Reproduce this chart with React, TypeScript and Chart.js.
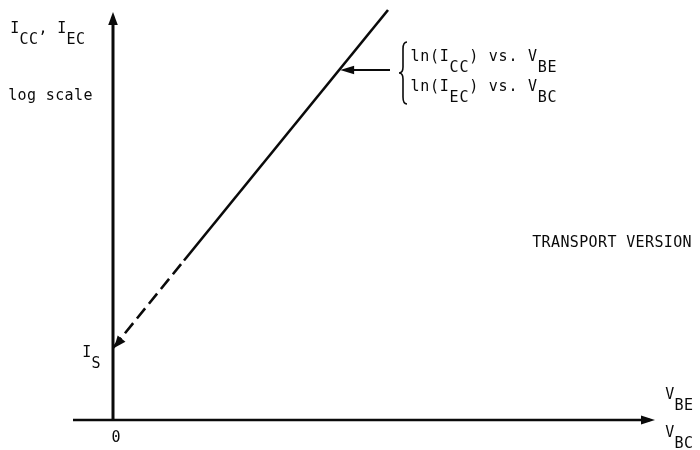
import React, { useEffect, useRef } from "react";
import { Chart, registerables } from "chart.js";

Chart.register(...registerables);

// Transport-model characteristic: ln(I) rises linearly with junction voltage,
// extrapolating back to the saturation current I_S at V = 0.
const VOLTAGE = [0, 1.42, 5.5];          // V_BE / V_BC (arbitrary units)
const LN_CURRENT = [1.44, 3.19, 8.2];    // ln(I_CC) / ln(I_EC) (arbitrary units)
const POINTER_LN_I = 7.0;                // where the annotation arrow meets the line

// Axis extents in data units
const X_AXIS = [-0.8, 10.84];
const Y_AXIS = [0, 8.16];

const X_RANGE = [-2.26, 11.74];
const Y_RANGE = [-0.6, 8.4];

type Part = [string, boolean];
const Y_TITLE: Part[] = [["I", false], ["CC", true], [", ", false], ["I", false], ["EC", true]];
const Y_NOTE = "log scale";
const CURVE_LABELS: Part[][] = [
  [["ln(I", false], ["CC", true], [") vs. V", false], ["BE", true]],
  [["ln(I", false], ["EC", true], [") vs. V", false], ["BC", true]],
];
const MODEL_NAME = "TRANSPORT VERSION";
const X_TITLES: Part[][] = [
  [["V", false], ["BE", true]],
  [["V", false], ["BC", true]],
];
const IS_LABEL: Part[] = [["I", false], ["S", true]];
const ORIGIN_LABEL = "0";

const INK = "#0a0a0a";
const FONT = "15px 'DejaVu Sans Mono'";
const PITCH = 9.4;
const SUB_DROP = 10.5;

function drawMono(ctx: CanvasRenderingContext2D, s: string, x: number, y: number, pitch = PITCH) {
  for (let i = 0; i < s.length; i++) {
    const ch = s[i];
    const w = ctx.measureText(ch).width;
    ctx.fillText(ch, x + i * pitch + (pitch - w) / 2, y);
  }
  return x + s.length * pitch;
}

function drawParts(ctx: CanvasRenderingContext2D, parts: Part[], x: number, y: number, pitch = PITCH) {
  let cx = x;
  for (const [t, sub] of parts) {
    cx = drawMono(ctx, t, cx, sub ? y + SUB_DROP : y, pitch);
  }
}

function arrowHead(ctx: CanvasRenderingContext2D, tx: number, ty: number, ang: number, len: number, half: number) {
  const c = Math.cos(ang), s = Math.sin(ang);
  const bx = tx - len * c, by = ty - len * s;
  ctx.beginPath();
  ctx.moveTo(tx, ty);
  ctx.lineTo(bx - half * s, by + half * c);
  ctx.lineTo(bx + half * s, by - half * c);
  ctx.closePath();
  ctx.fill();
}

function brace(ctx: CanvasRenderingContext2D, xTip: number, xEnd: number, top: number, bottom: number) {
  const mid = (top + bottom) / 2;
  const xm = (xTip + xEnd) / 2;
  ctx.beginPath();
  ctx.moveTo(xEnd, top);
  ctx.quadraticCurveTo(xm, top, xm, top + 7);
  ctx.lineTo(xm, mid - 6);
  ctx.quadraticCurveTo(xm, mid, xTip, mid);
  ctx.quadraticCurveTo(xm, mid, xm, mid + 6);
  ctx.lineTo(xm, bottom - 7);
  ctx.quadraticCurveTo(xm, bottom, xEnd, bottom);
  ctx.stroke();
}

const decorations = {
  id: "decorations",
  afterDatasetsDraw(chart: any) {
    const { ctx, scales } = chart;
    const px = (v: number) => scales.x.getPixelForValue(v);
    const py = (v: number) => scales.y.getPixelForValue(v);
    ctx.save();
    ctx.fillStyle = INK;
    ctx.strokeStyle = INK;

    // axis arrowheads
    arrowHead(ctx, px(0), py(Y_AXIS[1]), -Math.PI / 2, 13, 4.8);
    arrowHead(ctx, px(X_AXIS[1]), py(0), 0, 14, 4.5);

    // arrowhead of the extrapolated segment landing on I_S
    const ang = Math.atan2(py(LN_CURRENT[0]) - py(LN_CURRENT[1]), px(VOLTAGE[0]) - px(VOLTAGE[1]));
    arrowHead(ctx, px(VOLTAGE[0]) + 1, py(LN_CURRENT[0]), ang, 12, 5);

    // pointer from the labels to the line
    const xv = VOLTAGE[1] + ((POINTER_LN_I - LN_CURRENT[1]) * (VOLTAGE[2] - VOLTAGE[1])) / (LN_CURRENT[2] - LN_CURRENT[1]);
    const tx = px(xv), ty = py(POINTER_LN_I);
    ctx.lineWidth = 1.8;
    ctx.beginPath();
    ctx.moveTo(390, ty);
    ctx.lineTo(tx + 8, ty);
    ctx.stroke();
    arrowHead(ctx, tx + 1, ty, Math.PI, 14, 4.3);

    ctx.lineWidth = 1.6;
    brace(ctx, 399, 407, 42, 104);

    // text
    ctx.font = FONT;
    ctx.textBaseline = "alphabetic";
    drawParts(ctx, Y_TITLE, 10, 33);
    drawMono(ctx, Y_NOTE, 8, 100);
    drawParts(ctx, CURVE_LABELS[0], 410, 61, 9.8);
    drawParts(ctx, CURVE_LABELS[1], 410, 91, 9.8);
    drawMono(ctx, MODEL_NAME, 532, 247);
    const ox = px(0), oy = py(0);
    drawMono(ctx, ORIGIN_LABEL, ox - PITCH / 2 + 3, oy + 22);
    drawParts(ctx, IS_LABEL, ox - 31, py(LN_CURRENT[0]) + 9);
    drawParts(ctx, X_TITLES[0], 665, oy - 21);
    drawParts(ctx, X_TITLES[1], 665, oy + 17);
    ctx.restore();
  },
};

export default function App() {
  const ref = useRef<HTMLCanvasElement>(null);

  useEffect(() => {
    document.body.style.margin = "0";
    const canvas = ref.current;
    if (!canvas) return;
    const pts = VOLTAGE.map((v, i) => ({ x: v, y: LN_CURRENT[i] }));
    const chart = new Chart(canvas, {
      type: "scatter",
      data: {
        datasets: [
          {
            label: "V axis",
            data: [{ x: X_AXIS[0], y: 0 }, { x: X_AXIS[1] - 0.1, y: 0 }],
            showLine: true,
            borderColor: INK,
            borderWidth: 2.5,
            pointRadius: 0,
          },
          {
            label: "I axis",
            data: [{ x: 0, y: Y_AXIS[0] }, { x: 0, y: Y_AXIS[1] - 0.1 }],
            showLine: true,
            borderColor: INK,
            borderWidth: 3,
            pointRadius: 0,
          },
          {
            label: "ln(I) vs. V",
            data: pts,
            showLine: true,
            borderColor: INK,
            borderWidth: 2.6,
            pointRadius: 0,
            segment: {
              borderDash: (c: any) => (c.p0DataIndex === 0 ? [13, 6] : []),
            },
          },
        ],
      },
      options: {
        responsive: false,
        animation: false,
        layout: { padding: 0 },
        plugins: { legend: { display: false }, tooltip: { enabled: false } },
        scales: {
          x: { type: "linear", display: false, min: X_RANGE[0], max: X_RANGE[1] },
          y: { type: "linear", display: false, min: Y_RANGE[0], max: Y_RANGE[1] },
        },
      },
      plugins: [decorations],
    });
    return () => chart.destroy();
  }, []);

  return (
    <div style={{ width: 700, height: 450, background: "#fff" }}>
      <canvas ref={ref} width={700} height={450} />
    </div>
  );
}
